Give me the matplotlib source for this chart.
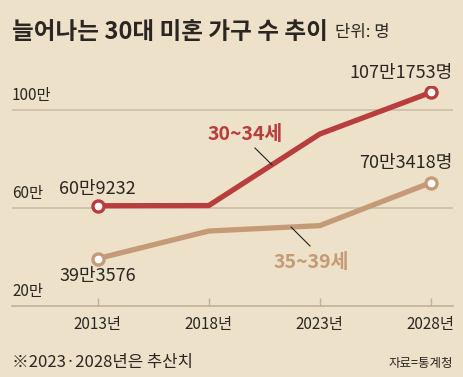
import matplotlib.pyplot as plt
import matplotlib.transforms as mtransforms

plt.rcParams['font.family'] = ['Noto Sans CJK KR', 'DejaVu Sans']

years = [2013, 2018, 2023, 2028]
year_labels = ['2013년', '2018년', '2023년', '2028년']
age_30_34 = [60.9232, 61.0, 90.2, 107.1753]   # 단위: 만 명
age_35_39 = [39.3576, 50.6, 52.8, 70.3418]
grid_vals = [60, 100]
y_labels = ['20만', '60만', '100만']
y_label_vals = [20, 60, 100]

bg = '#ede1c9'
red = '#b83d3d'
tan = '#c49a77'
ink = '#2b2622'
grid_c = '#cbbfa9'

fig = plt.figure(figsize=(4.63, 3.77), dpi=100, facecolor=bg)
ax = fig.add_axes([12 / 463, 71 / 377, 441 / 463, 220.5 / 377])
ax.set_facecolor(bg)
ax.set_xlim(2009.14, 2029.0)
ax.set_ylim(20, 110)

for v in grid_vals:
    ax.axhline(v, color=grid_c, lw=1.2, zorder=1)

for s in ['top', 'right', 'left']:
    ax.spines[s].set_visible(False)
ax.spines['bottom'].set_color('#bdb19b')
ax.spines['bottom'].set_linewidth(1.2)

ax.set_yticks([])
ax.set_xticks(years)
ax.set_xticklabels(year_labels, fontsize=11, color=ink)
ax.tick_params(axis='x', direction='in', length=6, width=1, color='#bdb19b', pad=7)

ax.plot(years, age_30_34, color=red, lw=3.8, solid_capstyle='round', zorder=3)
ax.plot(years, age_35_39, color=tan, lw=3.8, solid_capstyle='round', zorder=3)
for ser, c in [(age_30_34, red), (age_35_39, tan)]:
    ax.plot([years[0], years[-1]], [ser[0], ser[-1]], 'o', ms=8, mfc='white',
            mec=c, mew=2.4, zorder=4)

# y labels sitting above grid lines
trans = mtransforms.blended_transform_factory(ax.transAxes, ax.transData)
for v, lab in zip(y_label_vals, y_labels):
    ax.text(0, v + 2.5, lab, transform=trans, fontsize=11, color=ink,
            ha='left', va='bottom')

# value labels
ax.text(2013, age_30_34[0] + 3.2, '60만9232', fontsize=13, color=ink, ha='center', va='bottom')
ax.text(2013, age_35_39[0] - 3.5, '39만3576', fontsize=13, color=ink, ha='center', va='top')
ax.text(2029.0, age_30_34[-1] + 4.2, '107만1753명', fontsize=13, color=ink, ha='right', va='bottom')
ax.text(2029.0, age_35_39[-1] + 4.2, '70만3418명', fontsize=13, color=ink, ha='right', va='bottom')

# series labels with leader lines
ax.text(2019.63, 90.2, '30~34세', fontsize=14, fontweight='bold', color=red, ha='center', va='center')
ax.plot([2020.08, 2020.85], [84.5, 77.6], color='#222', lw=0.8, zorder=5)
ax.text(2022.61, 37.8, '35~39세', fontsize=14, fontweight='bold', color=tan, ha='center', va='center')
ax.plot([2021.71, 2022.56], [52.2, 44.5], color='#222', lw=0.8, zorder=5)

# title and notes
fig.text(12 / 463, 1 - 32 / 377, '늘어나는 30대 미혼 가구 수 추이', fontsize=17,
         fontweight='bold', color=ink, ha='left', va='center')
fig.text(335 / 463, 1 - 33 / 377, '단위: 명', fontsize=12, color=ink, ha='left', va='center')
fig.text(12 / 463, 1 - 363 / 377, '※2023·2028년은 추산치', fontsize=12, color=ink,
         ha='left', va='center')
fig.text(453 / 463, 1 - 363 / 377, '자료=통계청', fontsize=9, color=ink, ha='right', va='center')

fig.savefig('out.png', dpi=100, facecolor=bg)
